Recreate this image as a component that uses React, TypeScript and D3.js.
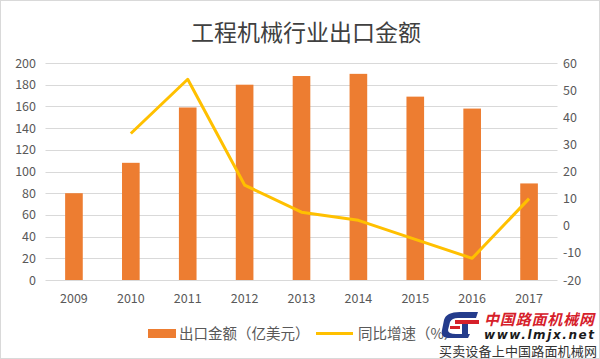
import { useEffect, useRef } from 'react';
import * as d3 from 'd3';

const years = ['2009', '2010', '2011', '2012', '2013', '2014', '2015', '2016', '2017'];
const exportValues = [80, 108, 159, 180, 188, 190, 169, 158, 89];
// growth rate, 2009 has no value
const growthRates: (number | null)[] = [null, 34, 54, 15, 5, 2, -5, -12, 10];
const leftTicks = [0, 20, 40, 60, 80, 100, 120, 140, 160, 180, 200];
const rightTicks = [-20, -10, 0, 10, 20, 30, 40, 50, 60];

const title = '工程机械行业出口金额';
const barLabel = '出口金额（亿美元）';
const lineLabel = '同比增速（%）';

const FONT = '"Noto Sans CJK SC", "Noto Sans", sans-serif';

function App() {
  const ref = useRef<SVGSVGElement>(null);

  useEffect(() => {
    const width = 600;
    const height = 359;
    const plot = { left: 45.5, right: 557.5, top: 63, bottom: 280 };

    const svg = d3.select(ref.current);
    svg.selectAll('*').remove();

    svg.append('rect')
      .attr('x', 0.5).attr('y', 0.5)
      .attr('width', width - 1).attr('height', height - 1)
      .attr('fill', '#fff').attr('stroke', '#d9d9d9');

    svg.append('text')
      .attr('x', 306).attr('y', 41)
      .attr('text-anchor', 'middle')
      .attr('font-family', FONT)
      .attr('font-size', 23)
      .attr('fill', '#404040')
      .text(title);

    const x = d3.scaleBand().domain(years).range([plot.left, plot.right]).paddingInner(0.69).paddingOuter(0.345);
    const yL = d3.scaleLinear().domain([0, 200]).range([plot.bottom, plot.top]);
    const yR = d3.scaleLinear().domain([-20, 60]).range([plot.bottom, plot.top]);

    // gridlines
    svg.append('g')
      .selectAll('line')
      .data(leftTicks)
      .join('line')
      .attr('x1', plot.left).attr('x2', plot.right)
      .attr('y1', d => Math.round(yL(d)) + 0.5)
      .attr('y2', d => Math.round(yL(d)) + 0.5)
      .attr('stroke', '#d9d9d9').attr('stroke-width', 1);

    svg.append('g')
      .selectAll('text')
      .data(leftTicks)
      .join('text')
      .attr('x', 36).attr('y', d => yL(d) + 4.5)
      .attr('text-anchor', 'end')
      .attr('font-family', FONT).attr('font-size', 12.5).attr('fill', '#595959')
      .text(d => d);

    svg.append('g')
      .selectAll('text')
      .data(rightTicks)
      .join('text')
      .attr('x', 563).attr('y', d => yR(d) + 4.5)
      .attr('text-anchor', 'start')
      .attr('font-family', FONT).attr('font-size', 12.5).attr('fill', '#595959')
      .text(d => d);

    svg.append('g')
      .selectAll('text')
      .data(years)
      .join('text')
      .attr('x', d => x(d)! + x.bandwidth() / 2).attr('y', 303)
      .attr('text-anchor', 'middle')
      .attr('font-family', FONT).attr('font-size', 12.5).attr('fill', '#595959')
      .text(d => d);

    svg.append('g')
      .selectAll('rect')
      .data(years)
      .join('rect')
      .attr('x', d => x(d)!)
      .attr('width', x.bandwidth())
      .attr('y', (d, i) => yL(exportValues[i]))
      .attr('height', (d, i) => yL(0) - yL(exportValues[i]))
      .attr('fill', '#ed7d31');

    const lineData = years
      .map((yr, i) => ({ yr, v: growthRates[i] }))
      .filter(d => d.v !== null) as { yr: string; v: number }[];

    const line = d3.line<{ yr: string; v: number }>()
      .x(d => x(d.yr)! + x.bandwidth() / 2)
      .y(d => yR(d.v));

    svg.append('path')
      .datum(lineData)
      .attr('d', line)
      .attr('fill', 'none')
      .attr('stroke', '#ffc000')
      .attr('stroke-width', 3)
      .attr('stroke-linejoin', 'round');

    // legend
    const leg = svg.append('g');
    leg.append('rect').attr('x', 148).attr('y', 329).attr('width', 28).attr('height', 9).attr('fill', '#ed7d31');
    leg.append('text').attr('x', 179).attr('y', 339)
      .attr('font-family', FONT).attr('font-size', 14.5).attr('fill', '#595959').text(barLabel);
    leg.append('line').attr('x1', 316).attr('x2', 353).attr('y1', 333.5).attr('y2', 333.5)
      .attr('stroke', '#ffc000').attr('stroke-width', 3);
    leg.append('text').attr('x', 358).attr('y', 339)
      .attr('font-family', FONT).attr('font-size', 14.5).attr('fill', '#595959').text(lineLabel);

    // watermark
    const wm = svg.append('g');
    wm.append('rect').attr('x', 440).attr('y', 312).attr('width', 40).attr('height', 26).attr('rx', 10).attr('fill', '#fff');
    wm.append('path').attr('d', 'M444,320 Q446,312 460,312 L478,312 L476,318 L458,318 Q452,318 450,322 L448,330 Q448,334 456,334 L470,334 L468,338 L450,338 Q440,338 442,330 Z')
      .attr('fill', '#243c8c');
    wm.append('rect').attr('x', 455).attr('y', 320).attr('width', 24).attr('height', 4).attr('fill', '#d6202a');
    wm.append('rect').attr('x', 462).attr('y', 324).attr('width', 6).attr('height', 12).attr('fill', '#243c8c');
    wm.append('rect').attr('x', 450).attr('y', 326).attr('width', 10).attr('height', 3).attr('fill', '#d6202a');
    wm.append('text').attr('x', 484).attr('y', 325)
      .attr('font-family', FONT).attr('font-size', 15).attr('font-weight', 'bold').attr('font-style', 'italic')
      .attr('fill', '#d6202a').attr('textLength', 110).text('中国路面机械网');
    wm.append('text').attr('x', 484).attr('y', 339)
      .attr('font-family', '"DejaVu Sans", sans-serif').attr('font-size', 12).attr('font-weight', 'bold').attr('font-style', 'italic')
      .attr('fill', '#1a1a1a').attr('textLength', 110).text('www.lmjx.net');
    wm.append('text').attr('x', 439).attr('y', 356)
      .attr('font-family', FONT).attr('font-size', 13).attr('fill', '#333')
      .attr('textLength', 158).text('买卖设备上中国路面机械网');
  }, []);

  return (
    <svg ref={ref} width={600} height={359} style={{ position: 'absolute', left: 0, top: 0, display: 'block' }} />
  );
}

export default App;
